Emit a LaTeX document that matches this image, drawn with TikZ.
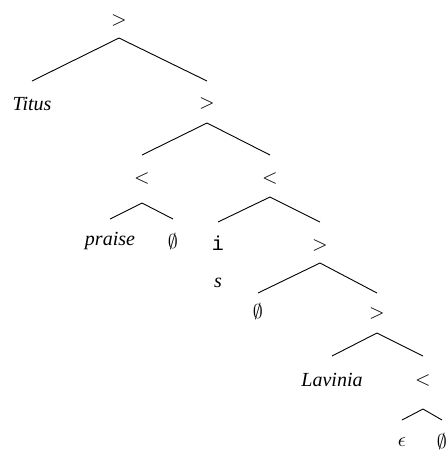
\documentclass[tikz,border=0pt]{standalone}
\usepackage{fontspec}
\setmainfont{Liberation Serif}
\setmonofont{Liberation Mono}
\usetikzlibrary{calc}
\begin{document}
\begin{tikzpicture}[
    x=0.5pt, y=-0.5pt,
    op/.style={inner sep=0pt},
    word/.style={inner sep=0pt, font=\itshape},
    branch/.style={line width=0.45pt}
]
\useasboundingbox (0,0) rectangle (448,452);

% Inner nodes
\node[op] (gt1) at (119,20) {$>$};
\node[op] (gt2) at (207,103) {$>$};
\node[op] (lt1) at (142,178) {$<$};
\node[op] (lt2) at (270,178) {$<$};
\node[op] (gt3) at (320,245) {$>$};
\node[op] (gt4) at (377,313) {$>$};
\node[op] (lt3) at (423,380) {$<$};

% Leaves
\node[word] (titus) at (32,104) {Titus};
\node[word] (praise) at (110,241) {praise};
\node[op] (nil1) at (173,242) {$\emptyset$};
\node[op] (i) at (218,243) {\texttt{i}};
\node[word] (s) at (218,283) {s};
\node[op] (nil2) at (258,312) {$\emptyset$};
\node[word] (lavinia) at (332,380) {Lavinia};
\node[op] (eps) at (402,442) {$\epsilon$};
\node[op] (nil3) at (442,442) {$\emptyset$};

% Branches
\draw[branch] ($(gt1)+(0,18)$) -- ($(titus)+(0,-23)$);
\draw[branch] ($(gt1)+(0,18)$) -- ($(gt2)+(0,-22)$);
\draw[branch] ($(gt2)+(0,20)$) -- ($(lt1)+(0,-23)$);
\draw[branch] ($(gt2)+(0,20)$) -- ($(lt2)+(0,-23)$);
\draw[branch] ($(lt1)+(0,25)$) -- ($(praise)+(0,-22)$);
\draw[branch] ($(lt1)+(0,25)$) -- ($(nil1)+(0,-23)$);
\draw[branch] ($(lt2)+(0,19)$) -- ($(i)+(0,-21)$);
\draw[branch] ($(lt2)+(0,19)$) -- ($(gt3)+(0,-23)$);
\draw[branch] ($(gt3)+(0,18)$) -- ($(nil2)+(0,-19)$);
\draw[branch] ($(gt3)+(0,18)$) -- ($(gt4)+(0,-20)$);
\draw[branch] ($(gt4)+(0,20)$) -- ($(lavinia)+(0,-24)$);
\draw[branch] ($(gt4)+(0,20)$) -- ($(lt3)+(0,-24)$);
\draw[branch] ($(lt3)+(0,29)$) -- ($(eps)+(0,-22)$);
\draw[branch] ($(lt3)+(0,29)$) -- ($(nil3)+(0,-22)$);
\end{tikzpicture}
\end{document}
